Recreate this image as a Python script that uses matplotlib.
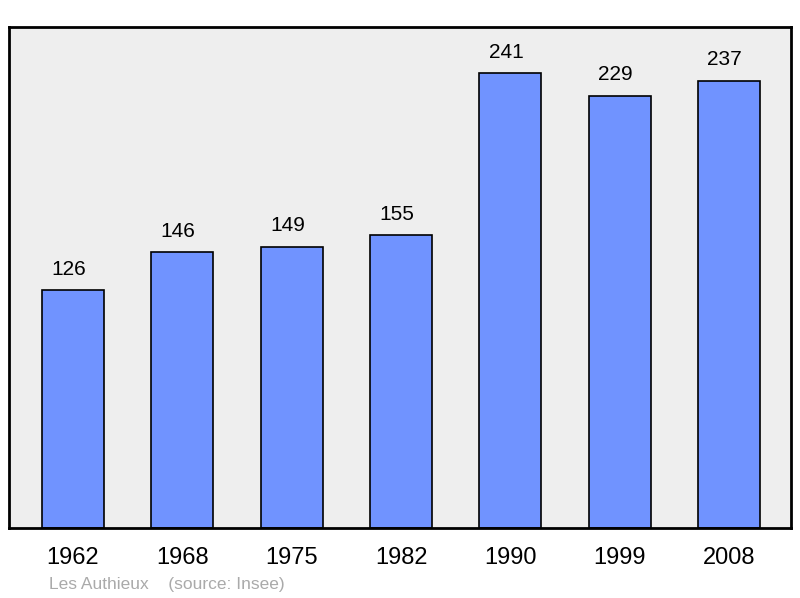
import numpy as np
import matplotlib.pyplot as plt

plt.rcParams['font.family'] = ['Liberation Sans', 'DejaVu Sans']

years = ["1962", "1968", "1975", "1982", "1990", "1999", "2008"]
population = [126, 146, 149, 155, 241, 229, 237]

fig = plt.figure(figsize=(8, 5.98), dpi=100)
ax = fig.add_axes([9 / 800, 70 / 598, 782 / 800, 501 / 598])
ax.set_facecolor("#eeeeee")

x = np.arange(len(years))
ax.bar(x, population, width=0.567, color="#7093ff", edgecolor="black",
       linewidth=1.2, zorder=2)
for xi, v in zip(x, population):
    ax.text(xi - 0.04, v + 11, str(v), ha="center", va="center", fontsize=15)

ax.set_xlim(-0.585, 6.565)
ax.set_ylim(0, 265.4)
ax.set_xticks(x)
ax.set_xticklabels(years, fontsize=17)
ax.tick_params(axis="x", length=0, pad=13.5)
ax.set_yticks([])
for s in ax.spines.values():
    s.set_linewidth(2)

fig.text(49 / 800, 1 - 584 / 598, "Les Authieux    (source: Insee)",
         color="#aaaaaa", fontsize=12.5, va="center", ha="left")

fig.savefig("out.png", dpi=100)
